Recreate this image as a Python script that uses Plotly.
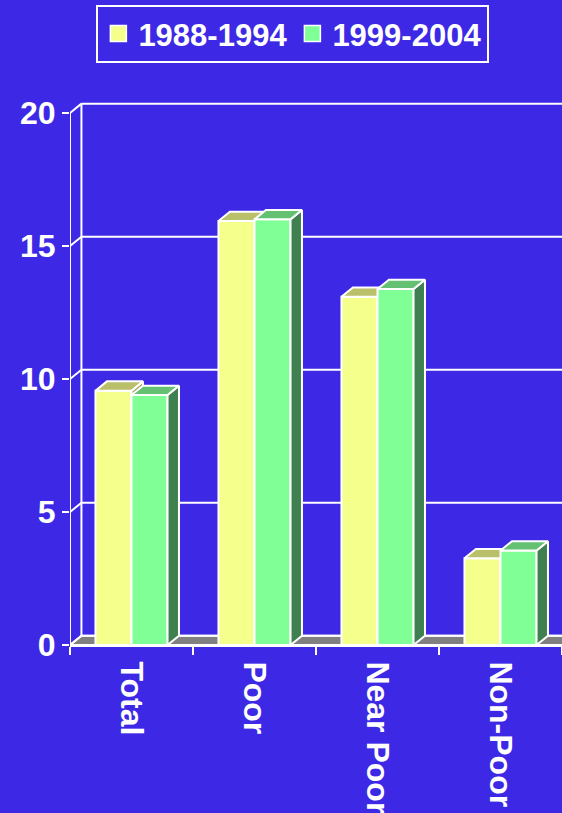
import plotly.graph_objects as go

# ---------------- data ----------------
categories = ["Total", "Poor", "Near Poor", "Non-Poor"]
series_names = ["1988-1994", "1999-2004"]
values_1988_1994 = [9.56, 15.94, 13.09, 3.26]
values_1999_2004 = [9.40, 16.00, 13.38, 3.55]
y_tick_values = [0, 5, 10, 15, 20]
y_tick_labels = ["0", "5", "10", "15", "20"]

# ---------------- style ----------------
BG = "#3D29E5"
WHITE = "#FFFFFF"
FONT = dict(family="Arial, Liberation Sans, sans-serif", size=32, color=WHITE, weight="bold")
LEG_FONT = dict(family="Arial, Liberation Sans, sans-serif", size=31, color=WHITE, weight="bold")
colors = {
    "1988-1994": dict(front="#F5FF8C", top="#BABF6A", side="#9FA34E"),
    "1999-2004": dict(front="#80FF96", top="#64C172", side="#3F8050"),
}
BAR_W = 0.293          # bar width in category units
DX = 0.093             # depth offset (x, data units)
DY = 0.35              # depth offset (y, data units)
X0, X1 = -0.5, len(categories) - 0.5
Y_TOP = 20.6

xs = list(range(len(categories)))


def faces(vals, offset):
    top_x, top_y, side_x, side_y = [], [], [], []
    for xc, h in zip(xs, vals):
        xl = xc + offset
        xr = xl + BAR_W
        top_x += [xl, xr, xr + DX, xl + DX, xl, None]
        top_y += [h, h, h + DY, h + DY, h, None]
        side_x += [xr, xr + DX, xr + DX, xr, xr, None]
        side_y += [0, DY, h + DY, h, 0, None]
    return top_x, top_y, side_x, side_y


fig = go.Figure()

series = [(series_names[0], values_1988_1994, -BAR_W, "x", "y"),
          (series_names[1], values_1999_2004, 0.0, "x2", "y2")]

for name, vals, offset, xa, ya in series:
    c = colors[name]
    fig.add_trace(go.Bar(
        x=xs, y=vals, width=BAR_W, offset=offset, xaxis=xa, yaxis=ya,
        marker=dict(color=c["front"], line=dict(color=WHITE, width=2)),
        showlegend=False, hoverinfo="skip", name=name))
    tx, ty, sx, sy = faces(vals, offset)
    fig.add_trace(go.Scatter(
        x=sx, y=sy, mode="lines", fill="toself", fillcolor=c["side"],
        line=dict(color=WHITE, width=2), xaxis=xa, yaxis=ya,
        showlegend=False, hoverinfo="skip"))
    fig.add_trace(go.Scatter(
        x=tx, y=ty, mode="lines", fill="toself", fillcolor=c["top"],
        line=dict(color=WHITE, width=2), xaxis=xa, yaxis=ya,
        showlegend=False, hoverinfo="skip"))

# legend entries
for name in series_names:
    fig.add_trace(go.Scatter(
        x=[None], y=[None], mode="markers", name=name,
        marker=dict(symbol="square", size=16, color=colors[name]["front"],
                    line=dict(color=WHITE, width=1.5))))

# ---------------- walls / floor (shapes below traces) ----------------
shapes = []
shapes.append(dict(
    type="path", xref="x", yref="y", layer="below",
    path=f"M {X0},0 L {X1},0 L {X1 + DX},{DY} L {X0 + DX},{DY} Z",
    fillcolor="#808080", line=dict(color=WHITE, width=2)))
for v in y_tick_values:
    shapes.append(dict(type="line", xref="x", yref="y", layer="below",
                       x0=X0 + DX, y0=v + DY, x1=X1 + 0.2, y1=v + DY,
                       line=dict(color=WHITE, width=2)))
    shapes.append(dict(type="line", xref="x", yref="y", layer="below",
                       x0=X0, y0=v, x1=X0 + DX, y1=v + DY,
                       line=dict(color=WHITE, width=2)))
shapes.append(dict(type="line", xref="x", yref="y", layer="below",
                   x0=X0 + DX, y0=DY, x1=X0 + DX, y1=y_tick_values[-1] + DY,
                   line=dict(color=WHITE, width=2)))
shapes.append(dict(type="line", xref="x", yref="y", layer="above",
                   x0=X0, y0=0, x1=X0, y1=y_tick_values[-1],
                   line=dict(color=WHITE, width=2)))

fig.update_layout(
    width=562, height=813,
    margin=dict(l=70, r=0, t=97, b=168),
    paper_bgcolor=BG, plot_bgcolor=BG,
    font=FONT,
    shapes=shapes,
    barmode="overlay",
    showlegend=True,
    legend=dict(orientation="h", x=0.453, xanchor="center", y=1.168, yanchor="top",
                bgcolor=BG, bordercolor=WHITE, borderwidth=2,
                font=LEG_FONT, itemsizing="trace"),
    xaxis=dict(range=[X0, X1], tickmode="array", tickvals=xs, ticktext=categories,
               tickangle=90, tickfont=FONT, showgrid=False, zeroline=False,
               showline=True, linecolor=WHITE, linewidth=2,
               ticks="outside", ticklen=8, tickcolor="rgba(0,0,0,0)",
               minor=dict(tickmode="linear", tick0=X0, dtick=1, ticks="outside",
                          ticklen=8, tickwidth=2, tickcolor=WHITE, showgrid=False),
               fixedrange=True),
    yaxis=dict(range=[0, Y_TOP], tickmode="array", tickvals=y_tick_values,
               ticktext=y_tick_labels, tickfont=FONT, showgrid=False, zeroline=False,
               showline=False, ticks="outside", ticklen=7, tickwidth=2, tickcolor=WHITE,
               ticklabelstandoff=0, fixedrange=True),
    xaxis2=dict(overlaying="x", matches="x", range=[X0, X1], visible=False),
    yaxis2=dict(overlaying="y", matches="y", range=[0, Y_TOP], visible=False),
)

fig.write_html("out.html")
